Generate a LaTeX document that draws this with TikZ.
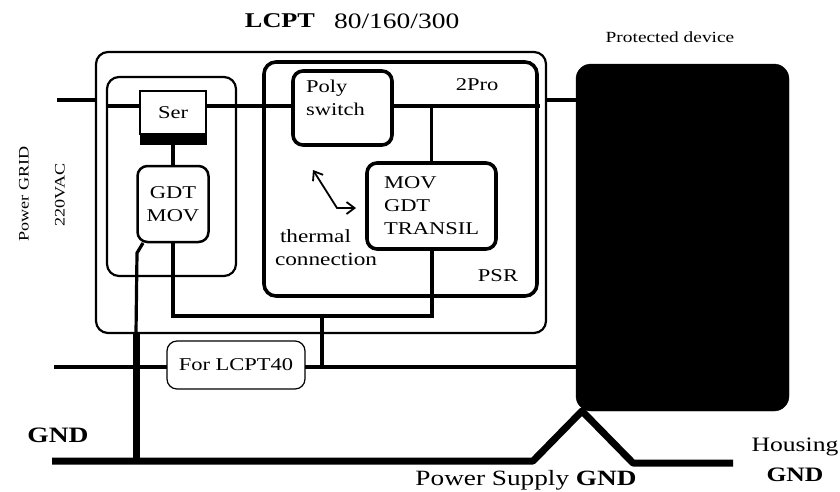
\documentclass[tikz,border=0pt]{standalone}
\usepackage{fontspec}
\setmainfont[FakeStretch=1.25]{Liberation Serif}
\usetikzlibrary{arrows.meta, positioning}

\begin{document}
\begin{tikzpicture}[
    x=1pt, y=-1pt,
    node distance=10pt and 10pt,
    box/.style={draw, rounded corners=10pt, inner sep=0pt, outer sep=0pt, align=center, font=\fontsize{18}{23}\selectfont},
    thinbox/.style={box, line width=2.2pt},
    thickbox/.style={box, line width=3.6pt},
    txt/.style={inner sep=0pt, outer sep=0pt, align=center, font=\fontsize{18}{23}\selectfont},
    wire/.style={line width=3.2pt},
    heavy/.style={line width=7pt},
    arrow/.style={{Straight Barb[length=8pt,width=12pt]}-{Straight Barb[length=8pt,width=12pt]}, line width=1.8pt}
]
    \useasboundingbox (0,0) rectangle (840,491);

    % housings
    \node[thinbox, rounded corners=12pt, minimum width=450pt, minimum height=281pt, anchor=north west] (lcpt) at (96,52) {};
    \node[thinbox, rounded corners=12pt, minimum width=129pt, minimum height=199pt, below right=25pt and 11pt of lcpt.north west] (series) {};
    \node[thickbox, rounded corners=12pt, minimum width=273pt, minimum height=234pt, below right=10pt and 168pt of lcpt.north west] (psr) {};
    \node[box, fill=black, rounded corners=15pt, minimum width=213pt, minimum height=347pt, right=30pt of lcpt.north east, anchor=north west, yshift=-12pt] (device) {};

    % series part
    \node[box, rounded corners=0pt, line width=2.5pt, fill=white, minimum width=66pt, minimum height=43pt, below right=14pt and 33pt of series.north west] (ser) {Ser};
    \node[box, rounded corners=0pt, fill=black, minimum width=66pt, minimum height=10pt, below=0pt of ser] (serbar) {};
    \node[box, line width=2.5pt, minimum width=71pt, minimum height=76pt, below=22pt of serbar] (gdt) {GDT\\MOV};

    % parallel part
    \node[thickbox, minimum width=99pt, minimum height=74pt, below right=9pt and 29pt of psr.north west] (poly) {};
    \node[txt, align=left, below right=9pt and 13pt of poly.north west] (polytxt) {Poly\\switch};
    \node[thickbox, align=left, minimum width=129pt, minimum height=86pt, below right=18pt and -25pt of poly.south east, anchor=north west] (mov) {MOV\\GDT\\TRANSIL};
    \node[box, line width=1.2pt, minimum width=138pt, minimum height=48pt, anchor=north west] (lcpt40) at (167,341) {For LCPT40};

    % texts
    \node[txt, font=\fontsize{21}{24}\selectfont\bfseries] (lcptname) at (280,21) {LCPT};
    \node[txt, right=19pt of lcptname] (lcptrange) {\fontsize{22}{24}\selectfont 80/160/300};
    \node[txt, font=\fontsize{15.5}{18}\selectfont] (devname) at (670,37) {Protected device};
    \node[txt] (pro) at (477,85) {2Pro};
    \node[txt] (psrname) at (498,276) {PSR};
    \node[txt, align=left, font=\fontsize{18.6}{23}\selectfont] (thermal) at (326,248) {\hspace*{5pt}thermal\\connection};
    \node[txt, rotate=90, font=\fontsize{14.5}{18}\selectfont] (grid) at (24,194) {Power GRID};
    \node[txt, rotate=90, font=\fontsize{14.5}{18}\selectfont] (vac) at (60,195) {220VAC};
    \node[txt, font=\fontsize{22}{24}\selectfont\bfseries] (gnd) at (58,435) {GND};
    \node[txt, font=\fontsize{20.5}{30}\selectfont] (housing) at (795,460) {Housing\\\textbf{GND}};
    \node[txt, font=\fontsize{21.8}{24}\selectfont] (supply) at (526,480) {Power Supply \textbf{GND}};

    % free ends
    \coordinate (gridin) at (57,100);
    \coordinate (gridout) at (54,367);
    \coordinate (groundl) at (52,461);
    \coordinate (groundm) at (533,461);
    \coordinate (groundtop) at (582,411);
    \coordinate (groundn) at (633,463);
    \coordinate (groundr) at (733,463);
    \coordinate (gdtleg) at (137,253);
    \coordinate (bend) at (173,316);
    \coordinate (join) at (322,316);
    \coordinate (return) at (322,367);
    \coordinate (heavytop) at (136,333);
    \coordinate (heavybot) at (136,461);
    \coordinate (arrowl) at (313,170);
    \coordinate (arrowm) at (337,208);
    \coordinate (arrowr) at (356,208);

    % wires
    \draw[wire] (gridin) -- (gridin -| lcpt.west);
    \draw[wire] ([yshift=6.5pt]ser.west) -- ([yshift=6.5pt]ser.west -| series.west);
    \draw[wire] ([yshift=6.5pt]ser.east) -- ([yshift=6.5pt]ser.east -| poly.west);
    \draw[wire] ([yshift=2pt]poly.east) -- ([yshift=2pt,xshift=3pt]poly.east -| psr.east);
    \draw[wire] ([yshift=2pt]poly.east -| mov.north) -- (mov.north);
    \draw[wire] (lcpt.east |- gridin) -- (device.west |- gridin);
    \draw[wire] (serbar) -- (gdt);
    \draw[wire, line width=4pt] (gdt.south) -- (bend) -- (bend -| mov.south) -- (mov.south);
    \draw[wire, line width=4pt] (join) -- (return);
    \draw[wire] (gridout) -- (gridout -| lcpt40.west);
    \draw[wire] (return -| lcpt40.east) -- (return -| device.west);
    \draw[wire] (143,243) -- (gdtleg) -- (heavytop);
    \draw[heavy] (heavytop) -- (heavybot);
    \draw[heavy, line join=round] (groundl) -- (groundm) -- (groundtop) -- (groundn) -- (groundr);
    \draw[arrow] (arrowl) -- (arrowm) -- (arrowr);
\end{tikzpicture}
\end{document}
